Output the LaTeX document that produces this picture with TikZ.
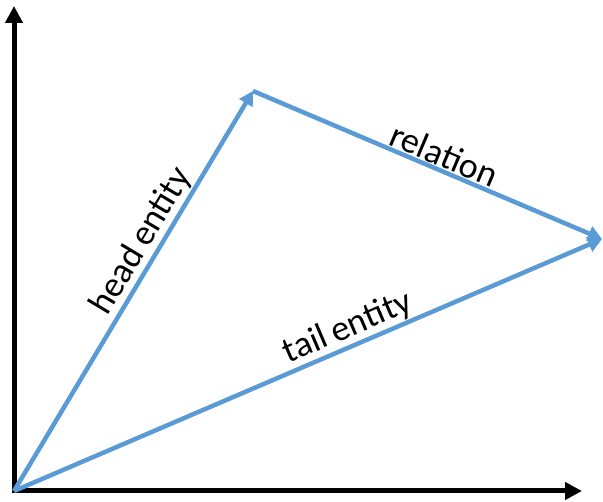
\documentclass[tikz,border=0pt]{standalone}
\usepackage{fontspec}
\setmainfont{Carlito}
\usetikzlibrary{arrows.meta}
\definecolor{vecblue}{HTML}{5B9BD5}
\begin{document}
\begin{tikzpicture}[x=1pt,y=-1pt,
  axis/.style={line width=5pt,black,-{Triangle[length=17pt,width=17pt]}},
  vec/.style={line width=4.5pt,vecblue,-{Triangle[length=14pt,width=15pt]}},
  lab/.style={font=\fontsize{36}{36}\selectfont,text=black,sloped,above,inner sep=1pt}]
\useasboundingbox (0,0) rectangle (603,502);
\coordinate (O) at (14,491);
\coordinate (Y) at (14,6);
\coordinate (X) at (582,491);
\coordinate (H) at (253,91);
\coordinate (R) at (602,239);
\draw[axis] (14,493.5) -- (Y);
\draw[axis] (11.5,491) -- (X);
\draw[vec] (O) -- node[lab,pos=0.6] {head\hspace{-2pt} entity} (H);
\draw[vec] (H) -- node[lab,pos=0.53] {relation} (R);
\draw[vec] (O) -- node[lab,pos=0.58] {tail\hspace{-2pt} entity} (R);
\end{tikzpicture}
\end{document}
